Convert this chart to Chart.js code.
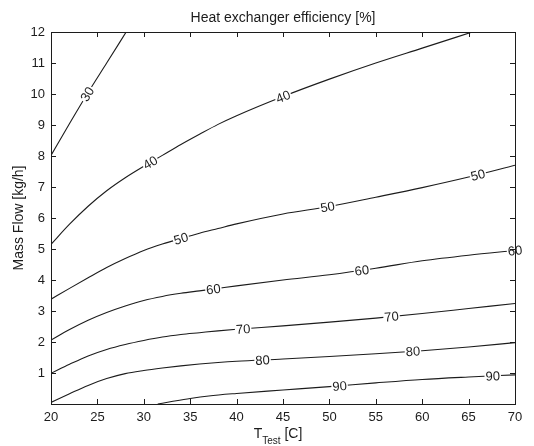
<!DOCTYPE html>
<html>
<head>
<meta charset="utf-8">
<script src="https://cdn.jsdelivr.net/npm/chart.js@4"></script>
<style>
  html, body { margin: 0; padding: 0; background: #fff; }
</style>
</head>
<body>
<canvas id="contourChart" width="534" height="446"></canvas>
<script>
// efficiency levels of the contour lines [%]
var levels = [30, 40, 50, 60, 70, 80, 90];

// T_Test [C] sample points and mass flow [kg/h]
var temps = [20, 22, 24, 26, 28, 30, 32, 34, 36, 38, 40, 45, 50, 55, 60, 65, 70];
var t30 = [20, 22, 24, 26, 28.1];
var flow30 = [8.02, 9.05, 10.05, 11.0, 12];
var t40 = [20, 22, 24, 26, 28, 30, 32, 34, 36, 38, 40, 45, 50, 55, 60, 65.4];
var flow40 = [5.15, 5.8, 6.38, 6.88, 7.3, 7.67, 8.02, 8.37, 8.7, 9.02, 9.3, 9.92, 10.48, 11.0, 11.48, 12];
var flow50 = [3.38, 3.73, 4.07, 4.4, 4.69, 4.95, 5.16, 5.34, 5.51, 5.66, 5.81, 6.13, 6.37, 6.67, 6.98, 7.32, 7.7];
var flow60 = [2.06, 2.4, 2.7, 2.95, 3.16, 3.34, 3.47, 3.57, 3.65, 3.73, 3.81, 4.0, 4.17, 4.38, 4.62, 4.8, 4.95];
var flow70 = [0.99, 1.28, 1.55, 1.76, 1.92, 2.05, 2.16, 2.24, 2.3, 2.36, 2.41, 2.52, 2.64, 2.77, 2.92, 3.08, 3.24];
var flow80 = [0.05, 0.33, 0.6, 0.82, 0.98, 1.08, 1.16, 1.23, 1.29, 1.34, 1.38, 1.45, 1.53, 1.62, 1.72, 1.84, 1.98];
var t90 = [31.5, 33, 35, 37, 40, 45, 50, 55, 60, 65, 70];
var flow90 = [0, 0.08, 0.18, 0.26, 0.34, 0.45, 0.56, 0.68, 0.79, 0.87, 0.94];

// where the inline labels sit along each contour (T_Test)
var labelTemps = [[23.9], [30.7, 45], [34, 49.8, 66], [37.5, 53.5, 70], [40.7, 56.7], [42.8, 59], [51.1, 67.6]];

var xTicks = [20, 25, 30, 35, 40, 45, 50, 55, 60, 65, 70];
var yTicks = [0, 1, 2, 3, 4, 5, 6, 7, 8, 9, 10, 11, 12];

var curves = [
  [t30, flow30], [t40, flow40], [temps, flow50], [temps, flow60],
  [temps, flow70], [temps, flow80], [t90, flow90]
];

var FONT = '"Liberation Sans", Arial, Helvetica, sans-serif';
var INK = '#1c1c1c';

function toPoints(ts, ms) {
  return ts.map(function (t, i) { return { x: t, y: ms[i] }; });
}

function interp(ts, ms, t) {
  var i = 0;
  while (i < ts.length - 2 && t > ts[i + 1]) i++;
  var f = (t - ts[i]) / (ts[i + 1] - ts[i]);
  return ms[i] + f * (ms[i + 1] - ms[i]);
}

var contourLabels = {
  id: 'contourLabels',
  afterDatasetsDraw: function (chart) {
    var ctx = chart.ctx, xs = chart.scales.x, ys = chart.scales.y;
    ctx.save();
    ctx.font = '13px ' + FONT;
    ctx.textAlign = 'center';
    ctx.textBaseline = 'middle';
    curves.forEach(function (c, i) {
      var text = String(levels[i]);
      labelTemps[i].forEach(function (t) {
        var px = xs.getPixelForValue(t);
        var py = ys.getPixelForValue(interp(c[0], c[1], t));
        var ax = xs.getPixelForValue(t - 0.4), ay = ys.getPixelForValue(interp(c[0], c[1], t - 0.4));
        var bx = xs.getPixelForValue(t + 0.4), by = ys.getPixelForValue(interp(c[0], c[1], t + 0.4));
        var ang = Math.atan2(by - ay, bx - ax);
        var w = ctx.measureText(text).width;
        ctx.save();
        ctx.translate(px, py);
        ctx.rotate(ang);
        ctx.fillStyle = '#fff';
        ctx.fillRect(-w / 2 - 1, -5, w + 2, 10);
        ctx.fillStyle = INK;
        ctx.fillText(text, 0, 1);
        ctx.restore();
      });
    });
    ctx.restore();
  }
};

var frameAndTitles = {
  id: 'frameAndTitles',
  afterDraw: function (chart) {
    var ctx = chart.ctx, a = chart.chartArea, xs = chart.scales.x, ys = chart.scales.y;
    ctx.save();
    ctx.strokeStyle = INK;
    ctx.lineWidth = 1;
    ctx.strokeRect(Math.round(a.left) + 0.5, Math.round(a.top) + 0.5,
      Math.round(a.right - a.left), Math.round(a.bottom - a.top));
    // tick marks pointing inward, on all four sides
    ctx.beginPath();
    xTicks.forEach(function (v) {
      var x = Math.round(xs.getPixelForValue(v)) + 0.5;
      ctx.moveTo(x, a.bottom); ctx.lineTo(x, a.bottom - 5);
      ctx.moveTo(x, a.top); ctx.lineTo(x, a.top + 5);
    });
    yTicks.forEach(function (v) {
      var y = Math.round(ys.getPixelForValue(v)) + 0.5;
      ctx.moveTo(a.left, y); ctx.lineTo(a.left + 5, y);
      ctx.moveTo(a.right, y); ctx.lineTo(a.right - 5, y);
    });
    ctx.stroke();

    ctx.fillStyle = INK;
    ctx.textBaseline = 'alphabetic';
    // title
    ctx.font = '14px ' + FONT;
    ctx.textAlign = 'center';
    ctx.fillText('Heat exchanger efficiency [%]', (a.left + a.right) / 2, 22);
    // y title
    ctx.save();
    ctx.translate(23, (a.top + a.bottom) / 2);
    ctx.rotate(-Math.PI / 2);
    ctx.fillText('Mass Flow [kg/h]', 0, 0);
    ctx.restore();
    // x title with subscript
    ctx.textAlign = 'left';
    ctx.font = '14px ' + FONT;
    var wT = ctx.measureText('T').width, wC = ctx.measureText(' [C]').width;
    ctx.font = '10px ' + FONT;
    var wS = ctx.measureText('Test').width;
    var x0 = (a.left + a.right) / 2 - 5 - (wT + wS + wC) / 2;
    ctx.font = '14px ' + FONT;
    ctx.fillText('T', x0, 438);
    ctx.font = '10px ' + FONT;
    ctx.fillText('Test', x0 + wT, 444);
    ctx.font = '14px ' + FONT;
    ctx.fillText(' [C]', x0 + wT + wS, 438);
    ctx.restore();
  }
};

var ctx = document.getElementById('contourChart').getContext('2d');
var myChart = new Chart(ctx, {
  type: 'line',
  data: {
    datasets: curves.map(function (c, i) {
      return {
        label: levels[i] + ' %',
        data: toPoints(c[0], c[1]),
        borderColor: INK,
        borderWidth: 1.1,
        pointRadius: 0,
        fill: false,
        cubicInterpolationMode: 'monotone'
      };
    })
  },
  options: {
    responsive: false,
    devicePixelRatio: 1,
    animation: false,
    layout: { padding: { top: 32, right: 19, left: 0, bottom: 0 } },
    plugins: { legend: { display: false }, tooltip: { enabled: false }, title: { display: false } },
    scales: {
      x: {
        type: 'linear', min: 20, max: 70,
        afterBuildTicks: function (s) { s.ticks = xTicks.map(function (v) { return { value: v }; }); },
        afterFit: function (s) { s.height = 42; },
        grid: { display: false, drawTicks: false },
        border: { display: false },
        ticks: { color: INK, padding: 6, maxRotation: 0, font: { family: FONT, size: 13 } }
      },
      y: {
        type: 'linear', min: 0, max: 12,
        afterBuildTicks: function (s) { s.ticks = yTicks.map(function (v) { return { value: v }; }); },
        afterFit: function (s) { s.width = 51; },
        grid: { display: false, drawTicks: false },
        border: { display: false },
        ticks: {
          color: INK, padding: 6, font: { family: FONT, size: 13 },
          callback: function (v) { return v === 0 ? '' : v; }
        }
      }
    }
  },
  plugins: [contourLabels, frameAndTitles]
});
</script>
</body>
</html>
